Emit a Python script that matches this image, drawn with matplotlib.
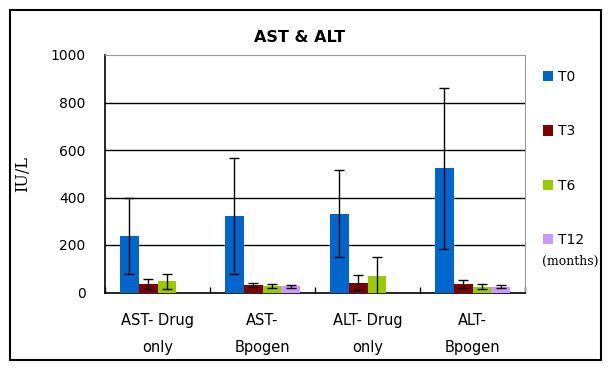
import numpy as np
import matplotlib
matplotlib.use('Agg')
import matplotlib.pyplot as plt
from matplotlib.patches import Rectangle

groups = ['AST- Drug\nonly', 'AST-\nBpogen', 'ALT- Drug\nonly', 'ALT-\nBpogen']
series = ['T0', 'T3', 'T6', 'T12']
colors = ['#0066CC', '#800000', '#99CC00', '#CC99FF']

t0 = [239, 322, 332, 523]
t3 = [36, 31, 41, 36]
t6 = [48, 27, 69, 25]
t12 = [0, 27, 0, 25]
err_t0 = [160, 244, 184, 338]
err_t3 = [20, 8, 32, 16]
err_t6 = [32, 10, 80, 9]
err_t12 = [0, 6, 0, 8]

values = [t0, t3, t6, t12]
errors = [err_t0, err_t3, err_t6, err_t12]

fig = plt.figure(figsize=(6.08, 3.68), dpi=100)
ax = fig.add_axes([105/608, 1-292.5/368, 420/608, 237.5/368])

x = np.arange(len(groups))
w = 0.18
for i in range(len(series)):
	pos = x - 1.5*w + i*w
	vals = np.array(values[i])
	errs = np.array(errors[i])
	ax.bar(pos, vals, w, color=colors[i], label=series[i], zorder=3)
	show = vals > 0
	ax.errorbar(pos[show], vals[show], yerr=errs[show], fmt='none', ecolor='black',
		elinewidth=1, capsize=3.5, capthick=1, zorder=4)

ax.set_xlim(-0.5, len(groups)-0.5)
ax.set_ylim(0, 1000)
ax.set_yticks([0, 200, 400, 600, 800, 1000])
ax.tick_params(axis='y', length=0, labelsize=10, pad=14)
ax.set_xticks(np.arange(len(groups)+1) - 0.5, minor=False)
ax.set_xticklabels([])
ax.tick_params(axis='x', direction='in', length=4, width=1)
for i, g in enumerate(groups):
	ax.text(i, -88, g, ha='center', va='top', fontsize=10.5, linespacing=2.0)
for yv in [200, 400, 600, 800]:
	ax.axhline(yv, color='black', lw=1, zorder=1)
for s in ['top', 'right']:
	ax.spines[s].set_color('#999999')
	ax.spines[s].set_linewidth(0.8)
for s in ['left', 'bottom']:
	ax.spines[s].set_color('black')
	ax.spines[s].set_linewidth(1.2)

ax.set_ylabel('IU/L', family='DejaVu Serif', fontsize=11.5, labelpad=14)

fig.text(300/608, 1-38/368, 'AST & ALT', ha='center', va='center', fontsize=11.5, fontweight='bold')

leg = ax.legend(loc='upper left', bbox_to_anchor=(543/608, 1-70/368), bbox_transform=fig.transFigure,
	frameon=False, fontsize=10, handlelength=0.75, handleheight=0.75, handletextpad=0.3,
	labelspacing=2.9, borderpad=0, borderaxespad=0)
fig.text(570/608, 1-261/368, '(months)', ha='center', va='center', family='DejaVu Serif', fontsize=9)

fig.patches.append(Rectangle((10/608, 1-360/368), 591/608, 350/368, transform=fig.transFigure,
	fill=False, edgecolor='black', lw=1.5))

fig.savefig('out.png', dpi=100)
